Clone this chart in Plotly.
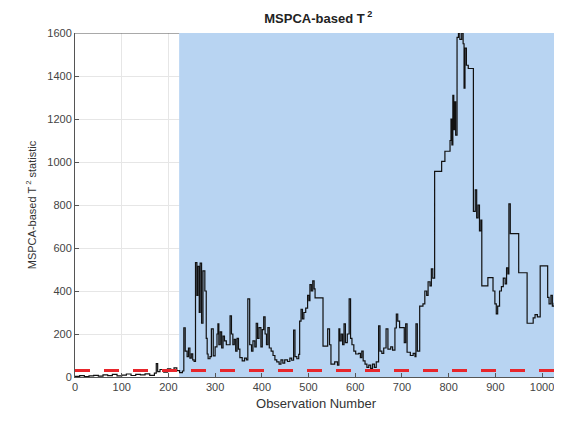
import plotly.graph_objects as go

# Observation numbers where the statistic changes, and its value from there on
obs = [0, 10, 20, 30, 40, 50, 60, 70, 80, 90, 100, 110, 120, 130, 140, 150, 160, 170, 174, 177,
       182, 190, 198, 205, 212, 218, 224, 230, 233, 236, 240, 243, 246, 249, 252, 255,
       258, 261, 263, 266, 268, 271, 274, 278, 281, 283, 285, 289, 292, 296, 300, 304, 306, 308,
       311, 314, 317, 320, 324, 332, 335, 338, 341, 344, 347, 350, 353, 358, 363, 367, 370, 374,
       378, 381, 385, 388, 391, 394, 398, 401, 404, 407, 410, 413, 416, 420, 424, 428, 432, 437,
       441, 445, 449, 455, 460, 464, 468, 471, 475, 479, 481, 484, 487, 490, 494, 498, 501, 503,
       506, 509, 512, 514, 531, 541, 545, 548, 556, 562, 565, 567, 570, 573, 576, 579, 583, 587,
       590, 593, 597, 601, 607, 611, 614, 617, 621, 625, 629, 633, 637, 641, 645, 650, 653, 657,
       661, 666, 670, 676, 680, 685, 688, 691, 695, 705, 708, 711, 718, 724, 728, 730, 733, 738,
       745, 749, 753, 756, 760, 763, 766, 770, 785, 792, 803, 805, 807, 809, 811, 813, 815, 818,
       821, 824, 828, 831, 833, 835, 838, 842, 853, 857, 860, 863, 866, 869, 871, 884, 895, 899,
       902, 905, 909, 913, 917, 921, 924, 927, 929, 932, 950, 968, 981, 985, 990, 996, 1012, 1015,
       1019, 1022, 1026]
t2 = [3, 6, 2, 5, 8, 4, 10, 6, 12, 5, 9, 14, 7, 12, 10, 15, 8, 18, 62, 25,
      35, 22, 38, 28, 42, 30, 20, 28, 229, 120, 95, 135, 88, 108, 80, 72,
      532, 380, 515, 300, 530, 250, 494, 400, 180, 107, 85, 95, 224, 98, 140, 200, 247, 150,
      210, 135, 190, 168, 150, 284, 200, 150, 175, 120, 180, 130, 90, 75, 88, 80, 363, 150,
      120, 168, 140, 250, 180, 230, 140, 220, 280, 200, 150, 230, 135, 120, 100, 80, 70, 60,
      80, 65, 80, 72, 88, 78, 218, 95, 85, 105, 260, 315, 270, 300, 320, 380, 355, 430,
      400, 447, 410, 368, 144, 224, 150, 60, 70, 55, 224, 168, 200, 150, 247, 160, 200, 363,
      180, 150, 120, 107, 110, 90, 120, 75, 60, 45, 55, 40, 60, 45, 70, 238, 120, 110,
      135, 224, 130, 140, 125, 228, 293, 260, 230, 160, 247, 115, 100, 110, 95, 247, 120, 330,
      340, 400, 380, 443, 424, 503, 460, 956, 1003, 1050, 1100, 1200, 1080, 1310, 1150, 1280, 1125, 1580,
      1600, 1570, 1600, 1550, 1343, 1530, 1450, 1435, 770, 870, 740, 800, 680, 730, 424, 462, 400, 340,
      294, 330, 400, 420, 460, 433, 508, 480, 805, 667, 485, 250, 275, 290, 280, 517, 370, 340,
      380, 330, 345]

threshold = 30
fault_start = 223
x_max = 1032
y_max = 1600
x_ticks = [0, 100, 200, 300, 400, 500, 600, 700, 800, 900, 1000]
y_ticks = [0, 200, 400, 600, 800, 1000, 1200, 1400, 1600]

fig = go.Figure()
fig.add_trace(go.Scatter(x=obs, y=t2, mode="lines", line=dict(color="#111111", width=1.2, shape="hv"),
                         showlegend=False, hoverinfo="skip"))
fig.add_trace(go.Scatter(x=[0, x_max], y=[threshold, threshold], mode="lines",
                         line=dict(color="#e8262b", width=3, dash="15px,14px"),
                         showlegend=False, hoverinfo="skip"))

fig.add_shape(type="rect", xref="x", yref="y", x0=fault_start, x1=x_max, y0=0, y1=y_max,
              fillcolor="rgb(184,212,242)", line=dict(width=0), layer="between")
fig.add_shape(type="line", xref="x", yref="y", x0=0, x1=fault_start, y0=y_max, y1=y_max,
              line=dict(color="#555555", width=1), layer="above")

font_family = "Liberation Sans, Arial, sans-serif"
fig.update_layout(
    width=554, height=415,
    margin=dict(l=67, r=5, t=25, b=46),
    paper_bgcolor="white", plot_bgcolor="white",
    font=dict(family=font_family, color="#333333", size=11),
    title=dict(text="<b>MSPCA-based T<sup> 2</sup></b>", x=0.56, xanchor="center", y=0.976,
               yanchor="middle", font=dict(size=13, color="#222222")),
    xaxis=dict(range=[0, x_max], tickvals=x_ticks, ticks="inside", ticklen=4, tickcolor="#555555",
               showline=True, linecolor="#555555", linewidth=1, showgrid=True, gridcolor="#e6e6e6",
               zeroline=False, automargin=False,
               title=dict(text="Observation Number", font=dict(size=13, color="#333333"), standoff=6),
               tickfont=dict(size=11, color="#444444")),
    yaxis=dict(range=[0, y_max], tickvals=y_ticks, ticks="inside", ticklen=4, tickcolor="#555555",
               showline=True, linecolor="#555555", linewidth=1, showgrid=True, gridcolor="#e6e6e6",
               zeroline=False, automargin=False,
               title=dict(text="MSPCA-based T<sup> 2</sup> statistic", font=dict(size=11, color="#333333"), standoff=8),
               tickfont=dict(size=11, color="#444444")),
)

fig.write_html("out.html", config={"displayModeBar": False})
